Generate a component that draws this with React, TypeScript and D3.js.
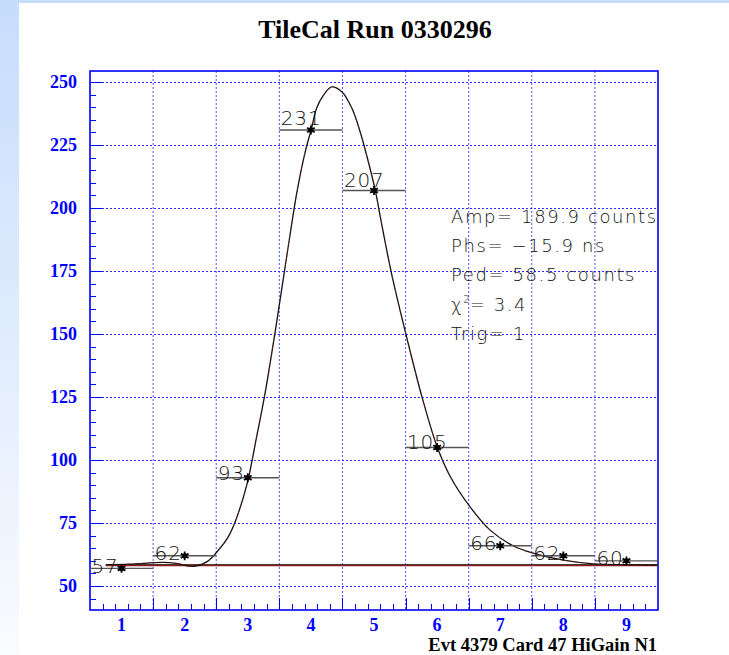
import React, { useEffect, useRef } from 'react';
import * as d3 from 'd3';

// samples (bin centre) and their counts
const samples = [1, 2, 3, 4, 5, 6, 7, 8, 9];
const counts = [57, 62, 93, 231, 207, 105, 66, 62, 60];

// fitted pulse
const fitX = [0.75, 1.13, 1.66, 1.87, 2.14, 2.35, 2.52, 2.69, 2.8, 2.89, 2.95, 3.01, 3.14, 3.27, 3.43, 3.62, 3.78, 3.91, 4.01, 4.09, 4.2, 4.33, 4.49, 4.65, 4.78, 4.91, 5.02, 5.1, 5.2, 5.3, 5.52, 5.76, 6.0, 6.21, 6.52, 6.84, 7.21, 7.53, 8.0, 8.48, 9.0, 9.5];
const fitY = [58.5, 58.7, 59.4, 59.0, 57.8, 59.6, 63.8, 69.5, 75.5, 82, 87, 92.7, 109.2, 126, 150.3, 181.3, 206.5, 222.3, 231.6, 239.6, 244.8, 248.1, 246.2, 239.6, 230.3, 218.4, 207.1, 196.5, 183.5, 171.5, 148.5, 125.1, 105.3, 93.4, 81.5, 72.2, 65.9, 63.0, 60.3, 58.8, 58.5, 58.3];

const pedestal = 58.5;
const pedStart = 0.75;

const yTicks = [50, 75, 100, 125, 150, 175, 200, 225, 250];
const xLabels = ['1', '2', '3', '4', '5', '6', '7', '8', '9'];

const statLines = ['Amp= 189.9 counts', 'Phs= \u221215.9 ns', 'Ped= 58.5 counts', 'CHI', 'Trig= 1'];

const W = 729;
const H = 655;
const serif = "'Liberation Serif', 'Times New Roman', serif";
const sans = "'DejaVu Sans', 'Liberation Sans', sans-serif";

const App: React.FC = () => {
  const svgRef = useRef<SVGSVGElement>(null);

  useEffect(() => {
    if (!svgRef.current) return;
    const svg = d3.select(svgRef.current);
    svg.selectAll('*').remove();

    const x = d3.scaleLinear().domain([0.5, 9.5]).range([90, 658]);
    const y = d3.scaleLinear().domain([40.5, 254.4]).range([610, 71]);

    // background
    const defs = svg.append('defs');
    const g = defs.append('linearGradient').attr('id', 'bg').attr('x1', 0).attr('y1', 0).attr('x2', 0).attr('y2', 1);
    g.append('stop').attr('offset', '0%').attr('stop-color', '#c6ddfc');
    g.append('stop').attr('offset', '100%').attr('stop-color', '#f9fbff');
    svg.append('rect').attr('width', W).attr('height', H).attr('fill', 'url(#bg)');
    svg.append('rect').attr('x', 19).attr('y', 3).attr('width', W - 19).attr('height', H - 3).attr('fill', '#fff');

    // grid
    const gridX = d3.range(1.5, 9, 1);
    svg.append('g').selectAll('line').data(gridX).enter().append('line')
      .attr('x1', d => x(d)).attr('x2', d => x(d)).attr('y1', 71).attr('y2', 610)
      .attr('stroke', '#5050ff').attr('stroke-width', 1).attr('stroke-dasharray', '2,2');
    svg.append('g').selectAll('line').data(yTicks).enter().append('line')
      .attr('x1', 90).attr('x2', 658).attr('y1', d => Math.round(y(d)) + 0.5).attr('y2', d => Math.round(y(d)) + 0.5)
      .attr('stroke', '#2a2aff').attr('stroke-width', 1).attr('stroke-dasharray', '2,2');

    // ticks
    const yMinor = d3.range(45, 255, 5);
    svg.append('g').selectAll('line').data(yMinor).enter().append('line')
      .attr('x1', 90).attr('x2', d => 90 + (d % 25 === 0 ? 12 : 6))
      .attr('y1', d => Math.round(y(d)) + 0.5).attr('y2', d => Math.round(y(d)) + 0.5)
      .attr('stroke', '#0000ff').attr('stroke-width', 1);
    const xMinor = d3.range(0.7, 9.5, 0.2);
    svg.append('g').selectAll('line').data(xMinor).enter().append('line')
      .attr('x1', d => Math.round(x(d)) + 0.5).attr('x2', d => Math.round(x(d)) + 0.5)
      .attr('y1', 610).attr('y2', d => (Math.abs((d - 0.5) % 1) < 0.01 || Math.abs((d - 0.5) % 1 - 1) < 0.01 ? 598 : 604))
      .attr('stroke', '#0000ff').attr('stroke-width', 1);

    // frame
    svg.append('rect').attr('x', 90).attr('y', 71).attr('width', 568).attr('height', 539)
      .attr('fill', 'none').attr('stroke', '#0000ff').attr('stroke-width', 1.6);

    // axis labels
    svg.append('g').selectAll('text').data(yTicks).enter().append('text')
      .attr('x', 77).attr('y', d => y(d) + 6).attr('text-anchor', 'end')
      .attr('font-family', serif).attr('font-weight', 'bold').attr('font-size', 18).attr('fill', '#0000ff')
      .text(d => d);
    svg.append('g').selectAll('text').data(samples).enter().append('text')
      .attr('x', d => x(d)).attr('y', 631).attr('text-anchor', 'middle')
      .attr('font-family', serif).attr('font-weight', 'bold').attr('font-size', 18).attr('fill', '#0000ff')
      .text((d, i) => xLabels[i]);

    // pedestal
    svg.append('line').attr('x1', x(pedStart)).attr('x2', x(9.5)).attr('y1', y(pedestal)).attr('y2', y(pedestal))
      .attr('stroke', '#222').attr('stroke-width', 1);
    svg.append('line').attr('x1', x(pedStart)).attr('x2', x(9.5)).attr('y1', y(pedestal) + 0.8).attr('y2', y(pedestal) + 0.8)
      .attr('stroke', '#8a1c1c').attr('stroke-width', 1.4);

    // fitted curve
    const fit = fitX.map((v, i) => [v, fitY[i]] as [number, number]);
    const line = d3.line<[number, number]>().x(d => x(d[0])).y(d => y(d[1])).curve(d3.curveCatmullRom.alpha(0.5));
    svg.append('path').attr('d', line(fit)).attr('fill', 'none').attr('stroke', '#111').attr('stroke-width', 1.3);
    svg.append('path').attr('d', line(fit)).attr('fill', 'none').attr('stroke', '#c02020').attr('stroke-width', 0.6)
      .attr('stroke-dasharray', '2,5');

    // error bars
    svg.append('g').selectAll('line').data(samples).enter().append('line')
      .attr('x1', d => x(d - 0.5)).attr('x2', d => x(d + 0.5))
      .attr('y1', (d, i) => y(counts[i])).attr('y2', (d, i) => y(counts[i]))
      .attr('stroke', '#555').attr('stroke-width', 1.4);

    // value labels
    svg.append('g').selectAll('text').data(samples).enter().append('text')
      .attr('x', d => x(d - 0.5) + 1.5)
      .attr('y', (d, i) => y(counts[i]) + 4.3 - (counts[i] - 60) * 0.054)
      .attr('font-family', sans).attr('font-weight', 200).attr('font-size', 20).attr('fill', '#111')
      .attr('letter-spacing', 0.8)
      .text((d, i) => counts[i]);

    // markers
    const star = d3.symbol().type(d3.symbolAsterisk).size(55);
    const mk = svg.append('g').selectAll('g').data(samples).enter().append('g')
      .attr('transform', (d, i) => `translate(${x(d)},${y(counts[i])})`);
    mk.append('path').attr('d', star()).attr('fill', 'none').attr('stroke', '#000').attr('stroke-width', 1.8);
    mk.append('circle').attr('r', 2.6).attr('fill', '#000');

    // fit results
    const stats = svg.append('g').attr('font-family', sans).attr('font-weight', 200).attr('font-size', 18)
      .attr('fill', '#111').attr('letter-spacing', 1.6);
    statLines.forEach((s, i) => {
      const t = stats.append('text').attr('x', 451).attr('y', 223 + i * 29.2);
      if (s === 'CHI') {
        t.append('tspan').text('\u03c7');
        t.append('tspan').attr('font-size', 10).attr('dy', -8).attr('letter-spacing', 0).text('2');
        t.append('tspan').attr('dy', 8).text('= 3.4');
      } else {
        t.text(s);
      }
    });

    // titles
    svg.append('text').attr('x', 375).attr('y', 38).attr('text-anchor', 'middle')
      .attr('font-family', serif).attr('font-weight', 'bold').attr('font-size', 26).attr('fill', '#000')
      .text('TileCal Run 0330296');
    svg.append('text').attr('x', 657).attr('y', 651).attr('text-anchor', 'end')
      .attr('font-family', serif).attr('font-weight', 'bold').attr('font-size', 18.5).attr('fill', '#000')
      .text('Evt 4379 Card 47 HiGain N1');
  }, []);

  return (
    <svg ref={svgRef} width={W} height={H} style={{ position: 'absolute', left: 0, top: 0 }} />
  );
};

export default App;
